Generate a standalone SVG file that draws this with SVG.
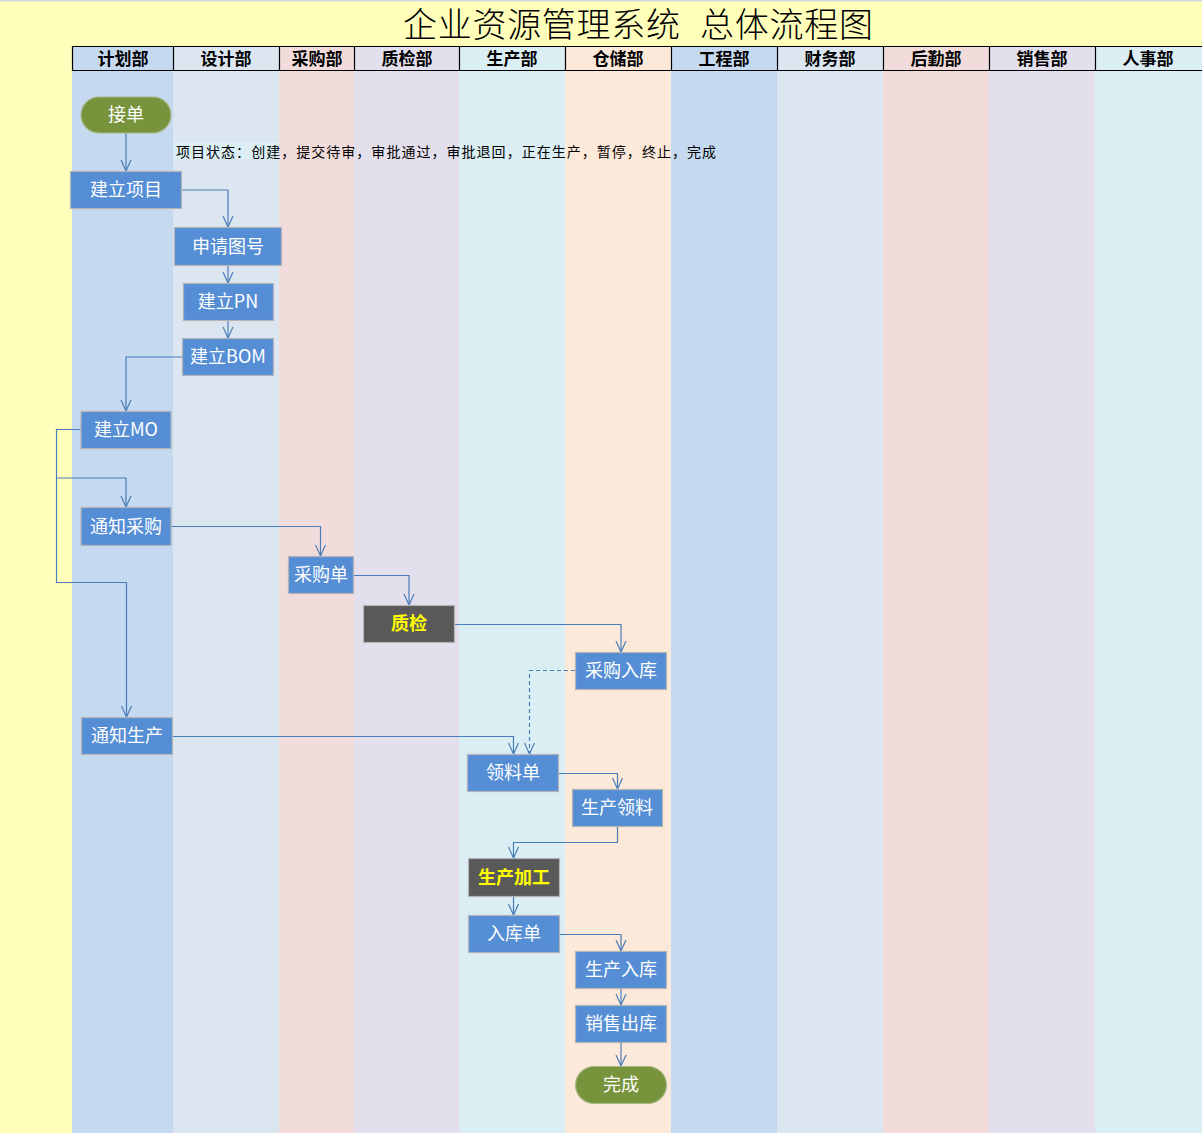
<svg xmlns="http://www.w3.org/2000/svg" width="1202" height="1133" viewBox="0 0 1202 1133">
<style>
.hdr{font-family:"Noto Sans CJK SC","Liberation Serif",serif;font-size:17px;font-weight:bold;fill:#000;text-anchor:middle}
.ttl{font-family:"Noto Sans CJK SC","Liberation Serif",serif;font-size:34px;font-weight:300;fill:#000}
.node rect.b{fill:#558ED5;stroke:#B4B4B4;stroke-width:1.2}
.node rect.d{fill:#595959;stroke:#B4B4B4;stroke-width:1.2}
.node rect.p{fill:#77933C;stroke:#A9B98A;stroke-width:1.2}
.node text{font-family:"Noto Sans CJK SC","Liberation Sans",sans-serif;font-size:18px;fill:#FFFFFF;text-anchor:middle}
.node text.y{fill:#FFFF00;font-weight:bold}
.conn path{fill:none;stroke:#4A7EBB;stroke-width:1.2}
.conn path.dash{stroke-dasharray:4,3}
</style>
<defs>
<marker id="arr" viewBox="0 0 12 12" refX="11" refY="6" markerWidth="12" markerHeight="12" markerUnits="userSpaceOnUse" orient="auto">
<path d="M0,1 L11,6 L0,11" fill="none" stroke="#4A7EBB" stroke-width="1.2"/>
</marker>
</defs>
<rect x="0" y="0" width="1202" height="1133" fill="#FFFFBB"/>
<rect x="0" y="0" width="1202" height="1.5" fill="#D0D8E4"/>
<g id="lanes">
<rect x="72" y="46" width="101" height="1087" fill="#C5D9F1"/>
<rect x="173" y="46" width="106" height="1087" fill="#DCE6F1"/>
<rect x="279" y="46" width="75" height="1087" fill="#F2DCDB"/>
<rect x="354" y="46" width="105" height="1087" fill="#E4DFEC"/>
<rect x="459" y="46" width="106" height="1087" fill="#DAEEF3"/>
<rect x="565" y="46" width="106" height="1087" fill="#FDE9D9"/>
<rect x="671" y="46" width="106" height="1087" fill="#C5D9F1"/>
<rect x="777" y="46" width="106" height="1087" fill="#DCE6F1"/>
<rect x="883" y="46" width="106" height="1087" fill="#F2DCDB"/>
<rect x="989" y="46" width="106" height="1087" fill="#E4DFEC"/>
<rect x="1095" y="46" width="107" height="1087" fill="#DAEEF3"/>
</g>
<g id="header" fill="none" stroke="#000" stroke-width="1.2">
<path d="M72,46.5 H1202 M72,70.5 H1202 M72.5,46 V71 M173.5,46 V71 M279.5,46 V71 M354.5,46 V71 M459.5,46 V71 M565.5,46 V71 M671.5,46 V71 M777.5,46 V71 M883.5,46 V71 M989.5,46 V71 M1095.5,46 V71"/>
</g>
<g id="header-text">
<text class="hdr" x="123" y="65">计划部</text>
<text class="hdr" x="226" y="65">设计部</text>
<text class="hdr" x="317" y="65">采购部</text>
<text class="hdr" x="407" y="65">质检部</text>
<text class="hdr" x="512" y="65">生产部</text>
<text class="hdr" x="618" y="65">仓储部</text>
<text class="hdr" x="724" y="65">工程部</text>
<text class="hdr" x="830" y="65">财务部</text>
<text class="hdr" x="936" y="65">后勤部</text>
<text class="hdr" x="1042" y="65">销售部</text>
<text class="hdr" x="1148" y="65">人事部</text>
</g>
<g id="title">
<text class="ttl" x="403" y="37" textLength="277" lengthAdjust="spacing">企业资源管理系统</text>
<text class="ttl" x="700" y="37" textLength="173" lengthAdjust="spacing">总体流程图</text>
</g>
<g id="note">
<rect x="173" y="142" width="106" height="17" fill="#DAEEF3"/>
<text x="176" y="157" font-family="Noto Sans CJK SC,Liberation Sans,sans-serif" font-size="14" fill="#000" textLength="540" lengthAdjust="spacing">项目状态：创建，提交待审，审批通过，审批退回，正在生产，暂停，终止，完成</text>
</g>
<g id="connectors" class="conn">
<path d="M126,133 V171" marker-end="url(#arr)"/>
<path d="M181,190 H228 V227" marker-end="url(#arr)"/>
<path d="M228,265 V283" marker-end="url(#arr)"/>
<path d="M228,320 V338" marker-end="url(#arr)"/>
<path d="M182,357 H126 V411" marker-end="url(#arr)"/>
<path d="M81,429.5 H56.5 V582.5 H126.5 V717" marker-end="url(#arr)"/>
<path d="M56.5,478 H126 V507" marker-end="url(#arr)"/>
<path d="M171,526.5 H320.5 V556" marker-end="url(#arr)"/>
<path d="M353,575.5 H409 V605" marker-end="url(#arr)"/>
<path d="M454,624.5 H621 V652" marker-end="url(#arr)"/>
<path class="dash" d="M575,670.5 H529.5 V754" marker-end="url(#arr)"/>
<path d="M172,736.5 H513.5 V754" marker-end="url(#arr)"/>
<path d="M558,773.5 H617.5 V789" marker-end="url(#arr)"/>
<path d="M617.5,826 V842.5 H513.5 V858" marker-end="url(#arr)"/>
<path d="M513.5,896 V915" marker-end="url(#arr)"/>
<path d="M559,934.5 H621 V951" marker-end="url(#arr)"/>
<path d="M621,988 V1005" marker-end="url(#arr)"/>
<path d="M621,1042 V1066" marker-end="url(#arr)"/>
</g>
<g id="n-jiedan" class="node"><rect class="p" x="81" y="97" width="90" height="36" rx="18"/><text x="126" y="121">接单</text></g>
<g id="n-jianlixiangmu" class="node"><rect class="b" x="70.5" y="171.5" width="111" height="37"/><text x="126" y="196">建立项目</text></g>
<g id="n-shenqingtuhao" class="node"><rect class="b" x="174.5" y="227.5" width="107" height="38"/><text x="228" y="253">申请图号</text></g>
<g id="n-jianlipn" class="node"><rect class="b" x="183.5" y="283.5" width="90" height="37"/><text x="228" y="308">建立PN</text></g>
<g id="n-jianlibom" class="node"><rect class="b" x="182.5" y="338.5" width="91" height="37"/><text x="228" y="363">建立BOM</text></g>
<g id="n-jianlimo" class="node"><rect class="b" x="81" y="411.5" width="90" height="37"/><text x="126" y="436">建立MO</text></g>
<g id="n-tongzhicaigou" class="node"><rect class="b" x="81" y="507.5" width="90" height="38"/><text x="126" y="533">通知采购</text></g>
<g id="n-caigoudan" class="node"><rect class="b" x="288.5" y="556.5" width="65" height="37"/><text x="321" y="581">采购单</text></g>
<g id="n-zhijian" class="node"><rect class="d" x="363.5" y="605.5" width="91" height="37"/><text class="y" x="409" y="630">质检</text></g>
<g id="n-caigourruku" class="node"><rect class="b" x="575.5" y="652.5" width="91" height="37"/><text x="621" y="677">采购入库</text></g>
<g id="n-tongzhishengchan" class="node"><rect class="b" x="81.5" y="717.5" width="91" height="37"/><text x="127" y="742">通知生产</text></g>
<g id="n-lingliaodan" class="node"><rect class="b" x="467.5" y="754.5" width="91" height="37"/><text x="513" y="779">领料单</text></g>
<g id="n-shengchanlingliao" class="node"><rect class="b" x="572.5" y="789.5" width="90" height="37"/><text x="617" y="814">生产领料</text></g>
<g id="n-shengchanjiagong" class="node"><rect class="d" x="468.5" y="858.5" width="91" height="38"/><text class="y" x="514" y="884">生产加工</text></g>
<g id="n-rukudan" class="node"><rect class="b" x="468.5" y="915.5" width="91" height="37"/><text x="514" y="940">入库单</text></g>
<g id="n-shengchanruku" class="node"><rect class="b" x="575.5" y="951.5" width="91" height="37"/><text x="621" y="976">生产入库</text></g>
<g id="n-xiaoshouchuku" class="node"><rect class="b" x="575.5" y="1005.5" width="91" height="37"/><text x="621" y="1030">销售出库</text></g>
<g id="n-wancheng" class="node"><rect class="p" x="575.5" y="1066.5" width="91" height="37" rx="18.5"/><text x="621" y="1091">完成</text></g>
</svg>
